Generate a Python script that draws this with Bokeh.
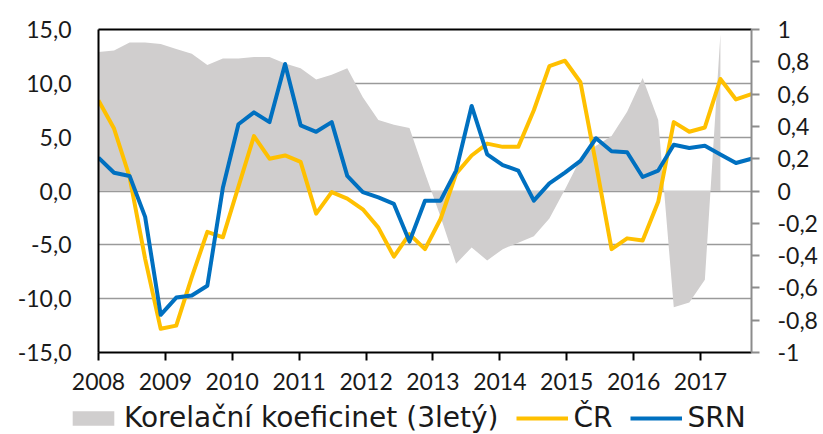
import numpy as np
from bokeh.plotting import figure
from bokeh.layouts import column, row
from bokeh.models import (Range1d, LinearAxis, FixedTicker, CustomJSTickFormatter,
                          Legend, LegendItem, ColumnDataSource)
from bokeh.embed import file_html
from bokeh.resources import INLINE

# ---- data (quarterly-ish observations, 2008 – 2017) ----
n_points = 43
x_start, x_end = 2008.0, 2017.762
years = [2008, 2009, 2010, 2011, 2012, 2013, 2014, 2015, 2016, 2017]

cz = [8.4, 5.8, 1.3, -6.3, -12.8, -12.5, -8.0, -3.8, -4.3, 0.4, 5.1, 3.0, 3.3, 2.7,
      -2.1, -0.1, -0.7, -1.7, -3.4, -6.1, -4.0, -5.4, -2.6, 1.6, 3.3, 4.4, 4.1, 4.1,
      7.5, 11.6, 12.1, 10.1, 2.5, -5.4, -4.4, -4.6, -1.0, 6.4, 5.5, 5.9, 10.4, 8.5, 9.0]
de = [3.1, 1.7, 1.4, -2.4, -11.5, -9.9, -9.7, -8.8, 0.3, 6.2, 7.3, 6.4, 11.8, 6.1,
      5.5, 6.4, 1.4, -0.1, -0.6, -1.2, -4.7, -0.9, -0.9, 1.9, 7.9, 3.4, 2.4, 1.9,
      -0.9, 0.7, 1.7, 2.8, 4.9, 3.7, 3.6, 1.3, 1.9, 4.3, 4.0, 4.2, 3.4, 2.6, 3.0]
corr = [0.86, 0.87, 0.92, 0.92, 0.91, 0.88, 0.85, 0.78, 0.82, 0.82, 0.83, 0.83, 0.79,
        0.76, 0.69, 0.72, 0.76, 0.58, 0.44, 0.41, 0.39, 0.11, -0.16, -0.45, -0.35,
        -0.43, -0.36, -0.32, -0.28, -0.17, 0.01, 0.20, 0.28, 0.34, 0.49, 0.70, 0.44,
        -0.72, -0.69, -0.55, 0.97]

label_corr = "Korelační koeficinet (3letý)"
label_cz = "ČR"
label_de = "SRN"

x = np.linspace(x_start, x_end, n_points)

FONT = "Lato"
LFONT = "DejaVu Sans"
TXT = "#1a1a1a"
GRID = "#9a9a9a"
C_AREA, C_CZ, C_DE = "#d0cece", "#ffc000", "#0070c0"

p = figure(width=823, height=400, x_range=Range1d(x_start, x_end),
           y_range=Range1d(-15, 15), output_backend="svg", toolbar_location=None,
           min_border_left=98, min_border_right=72, min_border_top=29,
           min_border_bottom=48, background_fill_color="white",
           border_fill_color="white")
p.outline_line_color = None
p.extra_y_ranges = {"corr": Range1d(-1, 1)}

# grids
p.xgrid.grid_line_color = None
p.ygrid.grid_line_color = GRID
p.ygrid.grid_line_width = 1.5
p.ygrid.ticker = FixedTicker(ticks=[-10, -5, 0, 5, 10])

# left axis
la = p.yaxis[0]
la.ticker = FixedTicker(ticks=[-15, -10, -5, 0, 5, 10, 15])
la.formatter = CustomJSTickFormatter(code="return tick.toFixed(1).replace('.', ',');")
la.axis_line_color = "black"
la.axis_line_width = 2
la.major_tick_out = 0
la.major_tick_in = 0
la.minor_tick_out = 0
la.minor_tick_in = 0
la.major_label_standoff = 27
la.major_label_text_font = FONT
la.major_label_text_font_size = "23px"
la.major_label_text_color = TXT

# bottom axis
ba = p.xaxis[0]
ba.ticker = FixedTicker(ticks=years)
ba.formatter = CustomJSTickFormatter(code="return tick.toFixed(0);")
ba.axis_line_color = "black"
ba.axis_line_width = 2
ba.major_tick_line_color = "black"
ba.major_tick_line_width = 2
ba.major_tick_out = 8
ba.major_tick_in = 0
ba.minor_tick_out = 0
ba.minor_tick_in = 0
ba.major_label_standoff = 12
ba.major_label_text_font = FONT
ba.major_label_text_font_size = "23px"
ba.major_label_text_color = TXT

# right axis
ra = LinearAxis(y_range_name="corr",
                ticker=FixedTicker(ticks=[-1, -0.8, -0.6, -0.4, -0.2, 0, 0.2, 0.4, 0.6, 0.8, 1]),
                formatter=CustomJSTickFormatter(
                    code="const s = (Math.round(tick*10)/10).toString(); return s.replace('.', ',');"))
ra.axis_line_color = "#8c8c8c"
ra.axis_line_width = 2
ra.major_tick_line_color = "#8c8c8c"
ra.major_tick_line_width = 2
ra.major_tick_out = 8
ra.major_tick_in = 0
ra.minor_tick_out = 0
ra.minor_tick_in = 0
ra.major_label_standoff = 18
ra.major_label_text_font = FONT
ra.major_label_text_font_size = "23px"
ra.major_label_text_color = TXT
p.add_layout(ra, "right")

# top border line
ta = LinearAxis(ticker=FixedTicker(ticks=[]))
ta.axis_line_color = "black"
ta.axis_line_width = 2
ta.major_tick_out = 0
ta.major_tick_in = 0
ta.minor_tick_out = 0
ta.minor_tick_in = 0
ta.major_label_text_font_size = "0px"
p.add_layout(ta, "above")

# glyphs
src_c = ColumnDataSource(dict(x=x[:len(corr)], y=corr))
p.varea(x="x", y1=0, y2="y", source=src_c, y_range_name="corr", fill_color=C_AREA)
src_l = ColumnDataSource(dict(x=x, cz=cz, de=de))
p.line("x", "cz", source=src_l, line_color=C_CZ, line_width=4, line_join="round")
p.line("x", "de", source=src_l, line_color=C_DE, line_width=4, line_join="round")

# ---- legend strip (separate figure so it can sit at the very bottom) ----
# its ranges exclude the data, so the series themselves stay hidden here
q = figure(width=823, height=34, x_range=Range1d(0, 1), y_range=Range1d(0, 1),
           output_backend="svg", toolbar_location=None,
           min_border_left=0, min_border_right=0, min_border_top=0, min_border_bottom=0,
           x_axis_type=None, y_axis_type=None, background_fill_color="white",
           border_fill_color="white")
q.outline_line_color = None
q.xgrid.grid_line_color = None
q.ygrid.grid_line_color = None
g_area = q.varea(x="x", y1=0, y2="y", source=src_c, fill_color=C_AREA)
g_cz = q.line("x", "cz", source=src_l, line_color=C_CZ, line_width=4)
g_de = q.line("x", "de", source=src_l, line_color=C_DE, line_width=4)

legend = Legend(items=[LegendItem(label=label_corr, renderers=[g_area]),
                       LegendItem(label=label_cz, renderers=[g_cz]),
                       LegendItem(label=label_de, renderers=[g_de])],
                orientation="horizontal", location=(67, 0))
legend.border_line_color = None
legend.background_fill_alpha = 0
legend.padding = 0
legend.margin = 0
legend.spacing = 18
legend.glyph_width = 52
legend.glyph_height = 18
legend.label_standoff = 5
legend.label_text_font = LFONT
legend.label_text_font_size = "28px"
legend.label_text_color = TXT
q.add_layout(legend, "center")

layout = column(p, row(q), spacing=0)
open("out.html", "w").write(file_html(layout, INLINE))
